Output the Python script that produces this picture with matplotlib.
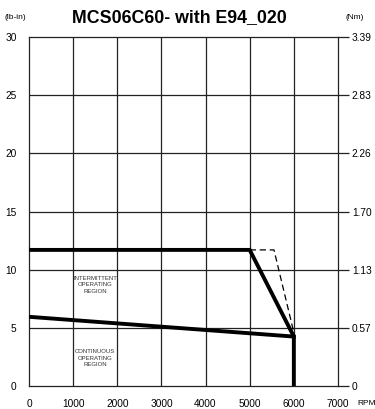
import matplotlib
matplotlib.use("Agg")
import matplotlib.pyplot as plt

plt.rcParams['font.family'] = ['Liberation Sans', 'DejaVu Sans']

# Data
rpm_ticks = [0, 1000, 2000, 3000, 4000, 5000, 6000, 7000]
lbin_ticks = [0, 5, 10, 15, 20, 25, 30]
nm_labels = ["0", "0.57", "1.13", "1.70", "2.26", "2.83", "3.39"]

inter_rpm = [0, 5000, 6000, 6000]
inter_torque = [11.7, 11.7, 4.25, 0]

dash_rpm = [5000, 5550, 6000]
dash_torque = [11.7, 11.7, 4.6]

cont_rpm = [0, 6000]
cont_torque = [5.95, 4.25]

fig = plt.figure(figsize=(3.75, 4.09), dpi=100)
ax = fig.add_axes([0.0773, 0.0562, 0.824, 0.8533])
ax.set_xlim(0, 7000)
ax.set_ylim(0, 30)

gridc = '#222222'
for x in rpm_ticks[1:-1]:
    ax.axvline(x, color=gridc, lw=0.9, zorder=1)
for y in lbin_ticks[1:-1]:
    ax.axhline(y, color=gridc, lw=0.9, zorder=1)
for s in ax.spines.values():
    s.set_linewidth(0.9)
    s.set_color(gridc)

ax.plot(inter_rpm, inter_torque, color='black', lw=2.8, solid_joinstyle='miter', zorder=3)
ax.plot(cont_rpm, cont_torque, color='black', lw=2.8, zorder=3)
ax.plot(dash_rpm, dash_torque, color='black', lw=0.9, ls=(0, (5, 3)), zorder=2)

ax.set_xticks(rpm_ticks)
ax.set_xticklabels([str(v) for v in rpm_ticks], fontsize=7.3)
ax.set_yticks(lbin_ticks)
ax.set_yticklabels([str(v) for v in lbin_ticks], fontsize=7.3)
ax.tick_params(axis='x', length=0, pad=9)
ax.tick_params(axis='y', length=0, pad=9)

ax2 = ax.twinx()
ax2.set_ylim(0, 30)
ax2.set_yticks(lbin_ticks)
ax2.set_yticklabels(nm_labels, fontsize=7.3)
ax2.tick_params(axis='y', length=8, width=0.9, color=gridc, pad=2, direction='out')
for s in ax2.spines.values():
    s.set_visible(False)

ax.text(1500, 8.7, "INTERMITTENT\nOPERATING\nREGION", fontsize=4.3, ha='center', va='center',
        color='#333333', linespacing=1.35)
ax.text(1500, 2.4, "CONTINUOUS\nOPERATING\nREGION", fontsize=4.3, ha='center', va='center',
        color='#333333', linespacing=1.35)

fig.text(0.477, 0.958, "MCS06C60- with E94_020", fontsize=12.8, fontweight='bold',
         ha='center', va='center')
fig.text(0.042, 0.958, "(lb-in)", fontsize=6, ha='center', va='center')
fig.text(0.947, 0.958, "(Nm)", fontsize=6, ha='center', va='center')
fig.text(0.952, 0.014, "RPM", fontsize=6, ha='left', va='center')

fig.savefig("out.png", dpi=100)
